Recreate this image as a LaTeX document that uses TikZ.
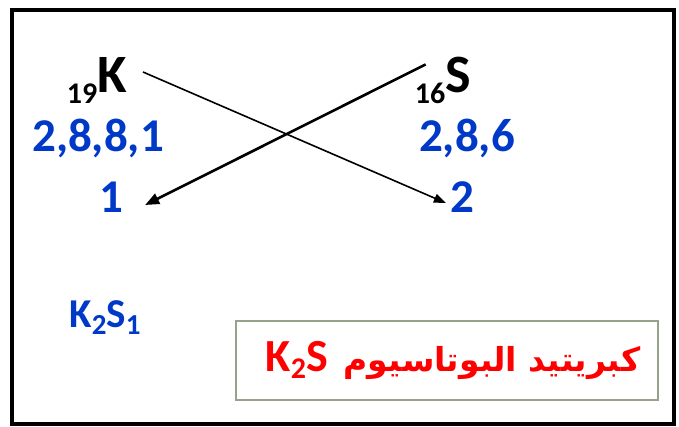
\documentclass[tikz,border=0pt]{standalone}
\usepackage{fontspec}
\setmainfont{Carlito}
\newfontfamily\arabicfont[Script=Arabic]{DejaVu Sans}
\TeXXeTstate=1
\usepackage{tikz}
\usetikzlibrary{arrows.meta}

\definecolor{elecblue}{RGB}{0,56,200}
\definecolor{boxgreen}{RGB}{150,163,138}

\begin{document}
\begin{tikzpicture}[x=1pt, y=-1pt, font=\bfseries, inner sep=2pt]
  \useasboundingbox (0,0) rectangle (679,426);
  \draw[line width=4.5pt] (12,10) rectangle (674,424);
  % elements
  \node[anchor=base east] (kel) at (129,92) {\raisebox{-11pt}{\fontsize{30}{30}\selectfont 19}\fontsize{54}{54}\selectfont K};
  \node[anchor=base east] (sel) at (473,92) {\raisebox{-11pt}{\fontsize{30}{30}\selectfont 16}\fontsize{54}{54}\selectfont S};
  \node[elecblue, font=\bfseries\fontsize{47}{47}\selectfont] (kconf) at (98,138) {2,8,8,1};
  \node[elecblue, font=\bfseries\fontsize{47}{47}\selectfont] (sconf) at (467,138) {2,8,6};
  \node[elecblue, font=\bfseries\fontsize{47}{47}\selectfont] (kval) at (111,197) {1};
  \node[elecblue, font=\bfseries\fontsize{47}{47}\selectfont] (sval) at (462,197) {2};
  \node[elecblue, font=\bfseries\fontsize{41}{41}\selectfont] (formula) at (105,318) {K\raisebox{-7pt}{\fontsize{29}{29}\selectfont 2}S\raisebox{-7pt}{\fontsize{29}{29}\selectfont 1}};
  % result box
  \node[draw=boxgreen, line width=2pt, minimum width=422pt, minimum height=79pt, text=red,
        font=\bfseries\fontsize{46}{46}\selectfont] (namebox) at (447,360.5)
        {\hspace*{12pt}K\raisebox{-7pt}{\fontsize{30}{30}\selectfont 2}S\hspace{16pt}{\arabicfont\fontsize{33}{33}\selectfont\beginR كبريتيد البوتاسيوم\endR}};
  % crossing arrows
  \draw[-{Triangle[length=12pt,width=9pt]}, line width=1.6pt] ([xshift=14pt,yshift=8pt]kel.east) -- ([xshift=-2pt,yshift=-6pt]sval.west);
  \draw[-{Triangle[length=14pt,width=11pt]}, line width=2.6pt] ([xshift=13pt,yshift=-10pt]sel.north west) -- ([xshift=20pt,yshift=-8pt]kval.east);
\end{tikzpicture}
\end{document}
